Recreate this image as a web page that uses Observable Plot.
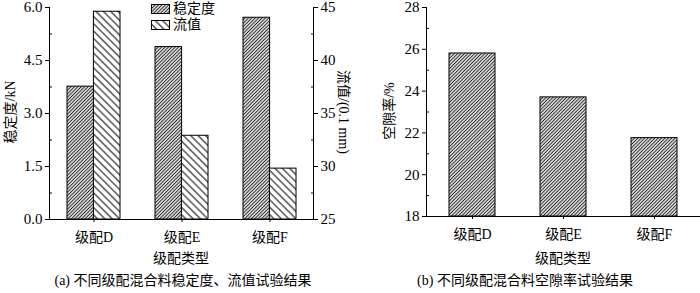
<!DOCTYPE html>
<html><head><meta charset="utf-8">
<script src="https://cdn.jsdelivr.net/npm/d3@7"></script>
<script src="https://cdn.jsdelivr.net/npm/@observablehq/plot@0.6"></script>
<style>
body{margin:0;background:#fff;}
#wrap{position:relative;width:700px;height:293px;overflow:hidden;font-family:"Liberation Serif","Times New Roman","Noto Sans CJK SC",serif;color:#000;}
#left{position:absolute;left:0;top:0;}
#right{position:absolute;left:350px;top:0;}
svg{overflow:visible;}
.cap{position:absolute;top:273px;font-size:14px;line-height:16px;white-space:nowrap;transform:translateX(-50%);}
#legend{position:absolute;left:151px;top:1px;font-size:14px;line-height:16px;}
#legend div{display:flex;align-items:center;height:16px;}
#legend svg{margin-right:3px;}
</style>
</head><body>
<svg width="0" height="0" style="position:absolute">
<defs>
<pattern id="hatchDense" patternUnits="userSpaceOnUse" width="2.4" height="2.4" patternTransform="rotate(45)">
<rect width="2.4" height="2.4" fill="#fff"/>
<line x1="1.2" y1="0" x2="1.2" y2="2.4" stroke="#222" stroke-width="1.1"/>
</pattern>
<pattern id="hatchWide" patternUnits="userSpaceOnUse" width="5.2" height="5.2" patternTransform="rotate(-45)">
<rect width="5.2" height="5.2" fill="#fff"/>
<line x1="2.6" y1="0" x2="2.6" y2="5.2" stroke="#000" stroke-width="1"/>
</pattern>
</defs>
</svg>
<div id="wrap">
<div id="left"></div>
<div id="right"></div>
<div id="legend">
<div><svg width="19" height="10"><rect x="0.5" y="0.5" width="18" height="9" fill="url(#hatchDense)" stroke="#000"/></svg><span>稳定度</span></div>
<div><svg width="19" height="10"><rect x="0.5" y="0.5" width="18" height="9" fill="url(#hatchWide)" stroke="#000"/></svg><span>流值</span></div>
</div>
<div class="cap" style="left:183px">(a) 不同级配混合料稳定度、流值试验结果</div>
<div class="cap" style="left:525px">(b) 不同级配混合料空隙率试验结果</div>
</div>
<script>
const categories = ["级配D", "级配E", "级配F"];
const stability = [3.76, 4.88, 5.71];      // kN
const flow = [44.6, 32.9, 29.8];           // 0.1 mm
const voids = [25.8, 23.7, 21.75];         // %
const stabilityTicks = [0, 1.5, 3.0, 4.5, 6.0];
const stabilityMinor = [0.75, 2.25, 3.75, 5.25];
const flowTicks = [25, 30, 35, 40, 45];
const voidTicks = [18, 20, 22, 24, 26, 28];
const voidMinor = [19, 21, 23, 25, 27];

const FF = "'Liberation Serif','Times New Roman','Noto Sans CJK SC',serif";
const font = {fontFamily: FF, fontSize: "15px", color: "#000", background: "transparent", overflow: "visible"};

const flowToStab = d3.scaleLinear([25, 45], [0, 6]);
const stabData = categories.map((c, i) => ({cat: c, v: stability[i]}));
const flowData = categories.map((c, i) => ({cat: c, v: flowToStab(flow[i])}));
const voidData = categories.map((c, i) => ({cat: c, v: voids[i]}));

const W = 350, H = 268;
const mL = 49, mR = 37;
const band = (W - mL - mR) / 3 * 0.6;

const left = Plot.plot({
  width: W, height: H,
  marginLeft: mL, marginRight: mR, marginTop: 7, marginBottom: H - 219,
  style: font,
  x: {type: "band", domain: categories, paddingInner: 0.4, paddingOuter: 0.2},
  y: {domain: [0, 6]},
  marks: [
    Plot.barY(stabData, {x: "cat", y: "v", fill: "url(#hatchDense)", stroke: "#000", strokeWidth: 1, insetRight: band / 2}),
    Plot.barY(flowData, {x: "cat", y: "v", fill: "url(#hatchWide)", stroke: "#000", strokeWidth: 1, insetLeft: band / 2}),
    Plot.axisY(stabilityTicks, {anchor: "left", tickSize: 4, tickPadding: 3, tickFormat: d3.format(".1f"), label: null}),
    Plot.axisY(stabilityMinor, {anchor: "left", tickSize: -3, tickFormat: () => "", label: null}),
    Plot.axisY(flowTicks.map(flowToStab), {anchor: "right", tickSize: 4, tickPadding: 3, tickFormat: d => Math.round(flowToStab.invert(d)), label: null}),
    Plot.axisY(stabilityMinor, {anchor: "right", tickSize: -3, tickFormat: () => "", label: null}),
    Plot.axisX({tickSize: 3, tickPadding: 10, fontSize: 14, label: null}),
    Plot.frame({anchor: "left"}),
    Plot.frame({anchor: "right"}),
    Plot.frame({anchor: "bottom"})
  ]
});
document.getElementById("left").appendChild(left);

const right = Plot.plot({
  width: W, height: H,
  marginLeft: 76, marginRight: 1, marginTop: 7, marginBottom: H - 216,
  style: font,
  x: {type: "band", domain: categories, paddingInner: 0.5, paddingOuter: 0.25},
  y: {domain: [18, 28]},
  marks: [
    Plot.barY(voidData, {x: "cat", y1: 18, y2: "v", fill: "url(#hatchDense)", stroke: "#000", strokeWidth: 1}),
    Plot.axisY(voidTicks, {anchor: "left", tickSize: 4, tickPadding: 3, label: null}),
    Plot.axisY(voidMinor, {anchor: "left", tickSize: -3, tickFormat: () => "", label: null}),
    Plot.axisX({tickSize: 3, tickPadding: 10, fontSize: 14, label: null}),
    Plot.frame({anchor: "left"}),
    Plot.frame({anchor: "bottom"})
  ]
});
document.getElementById("right").appendChild(right);

function addLabel(text, x, y, rot) {
  const d = document.createElement("div");
  d.textContent = text;
  d.style.cssText = `position:absolute;left:${x}px;top:${y}px;font-size:14px;line-height:16px;white-space:nowrap;transform:translate(-50%,-50%) rotate(${rot}deg);`;
  document.getElementById("wrap").appendChild(d);
}
addLabel("稳定度/kN", 11, 112, -90);
addLabel("流值/(0.1 mm)", 343, 112, 90);
addLabel("空隙率/%", 390, 111, -90);
addLabel("级配类型", 181, 259, 0);
addLabel("级配类型", 563, 259, 0);
</script>
</body></html>
